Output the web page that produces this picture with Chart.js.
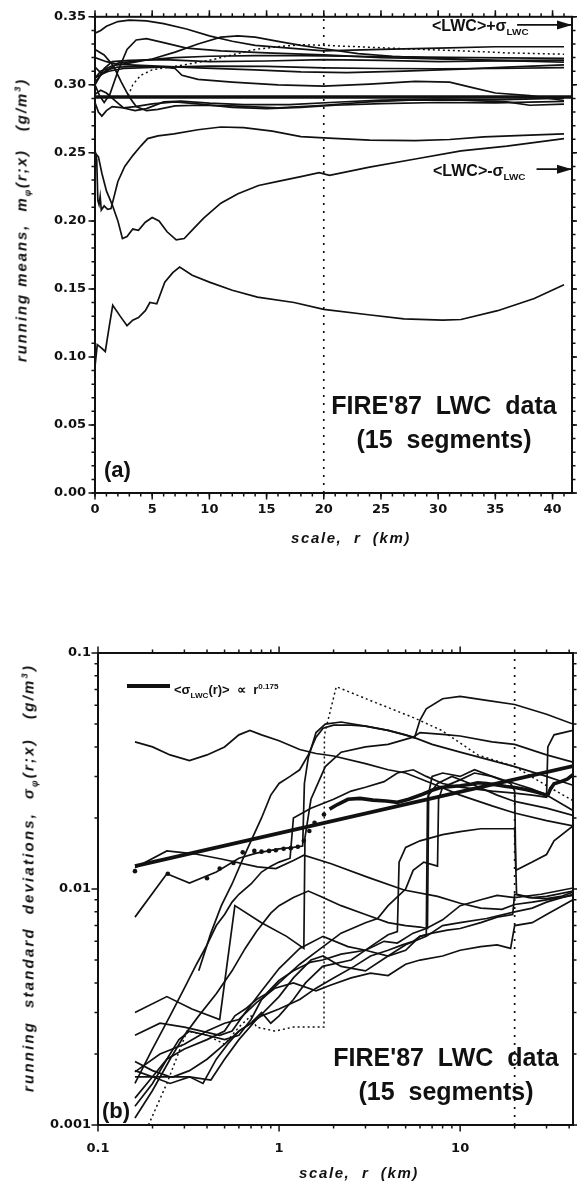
<!DOCTYPE html>
<html>
<head>
<meta charset="utf-8">
<script src="https://cdn.jsdelivr.net/npm/chart.js@4.4.1/dist/chart.umd.min.js"></script>
<style>
  body { margin: 0; background: #fff; }
  #page { position: relative; width: 577px; height: 1184px; overflow: hidden; color: #111;
          font-family: 'Liberation Sans', Arial, sans-serif; }
  canvas { position: absolute; left: 0; }
  .txt { position: absolute; font-weight: bold; white-space: pre; line-height: 1; }
  .ital { font-style: italic; letter-spacing: 1.6px; font-size: 15px; }
  .ytitle { transform: translate(-50%, -50%) rotate(-90deg); }
  .ctr { transform: translateX(-50%); text-align: center; }
  sub, sup { font-size: 0.62em; line-height: 0; }
  .big { font-size: 25px; line-height: 34px; }
  .bar { position: absolute; background: #111; }
</style>
</head>
<body>
<div id="page">
  <canvas id="meansChart" width="577" height="590" style="top:0"></canvas>
  <canvas id="stdChart" width="577" height="584" style="top:600px"></canvas>

  <div class="txt ital ytitle" style="left:21px; top:220px; letter-spacing:1.9px">running means,  m<sub>φ</sub>(r;x)   (g/m<sup>3</sup>)</div>
  <div class="txt ital ctr" style="left:351px; top:530px">scale,  r  (km)</div>
  <div class="txt" style="left:432px; top:18px; font-size:16px">&lt;LWC&gt;+σ<sub>LWC</sub></div>
  <div class="txt" style="left:433px; top:163px; font-size:16px">&lt;LWC&gt;-σ<sub>LWC</sub></div>
  <div class="txt big ctr" style="left:444px; top:388px">FIRE'87  LWC  data<br>(15  segments)</div>
  <div class="txt" style="left:104px; top:459px; font-size:22px">(a)</div>

  <div class="txt ital ytitle" style="left:28px; top:878px; letter-spacing:2.2px">running  standard  deviations,  σ<sub>φ</sub>(r;x)   (g/m<sup>3</sup>)</div>
  <div class="txt ital ctr" style="left:359px; top:1165px">scale,  r  (km)</div>
  <div class="bar" style="left:127px; top:684px; width:43px; height:4px"></div>
  <div class="txt" style="left:174px; top:683px; font-size:13px">&lt;σ<sub>LWC</sub>(r)&gt;  ∝  r<sup>0.175</sup></div>
  <div class="txt big ctr" style="left:446px; top:1040px">FIRE'87  LWC  data<br>(15  segments)</div>
  <div class="txt" style="left:102px; top:1100px; font-size:22px">(b)</div>
</div>

<script>
// ---------- panel (a): running means m(r;x), r in km, values in g/m^3 ----------
const meanTicksX = [0, 5, 10, 15, 20, 25, 30, 35, 40];
const meanTicksY = [0, 0.05, 0.10, 0.15, 0.20, 0.25, 0.30, 0.35];
const lwcMean = 0.291;
const lwcSigma = 0.053;
const refScale = 20;

const runMean01 = [[0,0.338],[0.5,0.340],[1,0.343],[2,0.3465],[3,0.3475],[4.5,0.347],[6,0.345],[8,0.341],[10,0.336],[12,0.332],[14,0.329],[17,0.327],[20,0.325],[25,0.326],[30,0.327],[35,0.328],[41,0.328]];
const runMean02 = [[0,0.300],[0.4,0.292],[0.8,0.287],[1.3,0.293],[2,0.310],[2.8,0.326],[3.6,0.333],[4.5,0.334],[6,0.331],[8,0.327],[11,0.325],[15,0.3235],[20,0.322],[25,0.320],[30,0.319],[35,0.318],[41,0.318]];
const runMean03 = [[0,0.305],[0.5,0.31],[1.5,0.314],[3,0.316],[5,0.319],[7,0.324],[9,0.330],[11,0.335],[12.5,0.336],[14,0.335],[16,0.332],[18,0.329],[20,0.3265],[23,0.323],[26,0.321],[30,0.3195],[35,0.318],[41,0.3166]];
const runMean04 = [[2.9,0.292],[3.3,0.300],[4,0.307],[5,0.311],[6.5,0.313],[8,0.315],[10,0.318],[12,0.322],[14,0.326],[16,0.328],[18,0.3295],[20,0.329],[23,0.328],[27,0.3265],[32,0.325],[36,0.3235],[41,0.3225]];
const runMean05 = [[0,0.302],[0.5,0.307],[1,0.311],[2,0.313],[4,0.3135],[6,0.313],[7,0.312],[7.6,0.307],[9,0.304],[12,0.302],[16,0.300],[20,0.299],[24,0.3005],[28,0.3025],[31,0.302],[33,0.298],[35,0.294],[38,0.292],[41,0.2885]];
const runMean06 = [[0,0.305],[1,0.310],[2,0.316],[4,0.318],[7,0.320],[10,0.321],[14,0.3215],[18,0.3215],[22,0.321],[27,0.3205],[33,0.320],[41,0.3195]];
const runMean07 = [[0,0.320],[1,0.317],[2,0.315],[5,0.314],[9,0.3125],[14,0.311],[18,0.3095],[22,0.309],[27,0.310],[32,0.3115],[36,0.313],[41,0.3146]];
const runMean08 = [[0,0.313],[0.6,0.308],[1.2,0.310],[2.5,0.312],[5,0.3128],[10,0.3138],[15,0.3135],[20,0.3125],[25,0.312],[30,0.3118],[35,0.312],[41,0.3127]];
const runMean09 = [[0,0.300],[0.8,0.312],[1.5,0.317],[3,0.318],[6,0.3185],[10,0.317],[15,0.3175],[20,0.3185],[25,0.318],[30,0.317],[35,0.3175],[41,0.318]];
const runMean10 = [[0,0.287],[0.3,0.280],[0.6,0.277],[1,0.281],[1.5,0.284],[2.5,0.283],[3.5,0.284],[5,0.286],[7,0.2875],[9,0.286],[12,0.2835],[15,0.2825],[18,0.2835],[21,0.285],[25,0.2862],[30,0.287],[35,0.2868],[41,0.2878]];
const runMean11 = [[0,0.326],[0.8,0.322],[1.6,0.314],[2.3,0.302],[3,0.291],[3.6,0.284],[4.5,0.281],[5.5,0.282],[7,0.2845],[9,0.285],[12,0.2845],[16,0.283],[20,0.285],[24,0.2875],[28,0.289],[32,0.2888],[36,0.2875],[38,0.285],[41,0.2858]];
const runMean12 = [[0,0.293],[0.5,0.296],[1,0.294],[1.8,0.288],[2.5,0.283],[3.5,0.281],[4.5,0.2825],[6,0.2875],[7.5,0.288],[10,0.2865],[13,0.2855],[17,0.2855],[21,0.2872],[25,0.2888],[30,0.2895],[35,0.289],[41,0.2902]];
const runMean13 = [[0,0.252],[0.15,0.245],[0.25,0.215],[0.35,0.212],[0.45,0.218],[0.55,0.208],[0.8,0.211],[1.1,0.2085],[1.4,0.209],[2,0.229],[2.6,0.240],[3.3,0.248],[4,0.255],[4.6,0.2605],[5.5,0.2625],[6.9,0.264],[9,0.267],[11,0.269],[13,0.2685],[15.5,0.266],[18,0.262],[20,0.261],[24,0.2594],[28,0.259],[31,0.2598],[34,0.2618],[38,0.263],[41,0.264]];
const runMean14 = [[0,0.25],[0.3,0.247],[0.6,0.235],[1,0.222],[1.5,0.212],[2,0.200],[2.4,0.187],[2.8,0.1885],[3.3,0.194],[3.8,0.193],[4.4,0.199],[5,0.2025],[5.6,0.200],[6.3,0.192],[7.1,0.186],[7.8,0.187],[8.7,0.195],[9.5,0.202],[11,0.213],[12.5,0.220],[14.3,0.226],[16,0.229],[18,0.2325],[19.6,0.2355],[20.5,0.2335],[24,0.2395],[28,0.2455],[32,0.2515],[36,0.255],[41,0.2605]];
const runMean15 = [[0,0.093],[0.2,0.109],[0.5,0.107],[0.9,0.104],[1.2,0.120],[1.55,0.138],[2.2,0.130],[2.8,0.123],[3.3,0.127],[3.8,0.129],[4.4,0.134],[4.8,0.140],[5.4,0.139],[6.1,0.155],[6.8,0.162],[7.4,0.166],[8.5,0.160],[10,0.155],[12,0.149],[14.2,0.144],[17.4,0.140],[20,0.135],[23.9,0.131],[27,0.128],[30.4,0.127],[32,0.1275],[35.2,0.134],[38.4,0.143],[41,0.153]];

// ---------- panel (b): running standard deviations, log-log ----------
const stdTicksX = [0.1, 1, 10];
const stdTicksY = [0.001, 0.01, 0.1];
const fitExponent = 0.175;
const fitLine = [[0.16,0.0125],[42,0.0332]];
const ensembleDots = [[0.16,0.0119],[0.243,0.0116],[0.40,0.0111],[0.47,0.0122],[0.56,0.0129],[0.63,0.0143],[0.73,0.0145],[0.80,0.0144],[0.88,0.0145],[0.96,0.0146],[1.06,0.0148],[1.16,0.0149],[1.27,0.0151],[1.37,0.0160],[1.47,0.0176],[1.57,0.0191],[1.77,0.0207]];
const ensembleMean = [[1.9,0.0218],[2.1,0.0228],[2.4,0.0240],[2.8,0.0242],[3.3,0.0238],[3.9,0.0236],[4.5,0.0233],[5.2,0.0240],[6.2,0.0252],[7,0.0262],[7.8,0.0269],[9,0.0272],[10,0.0274],[11.5,0.0278],[12.5,0.0282],[14,0.0280],[16,0.0276],[18,0.0272],[20,0.0269],[23,0.0264],[26,0.0258],[29,0.0252],[30.5,0.0250],[31.5,0.0265],[33,0.0279],[36,0.0285],[39,0.0292],[42,0.0305]];

const runStd01 = [[0.16,0.042],[0.2,0.040],[0.25,0.037],[0.32,0.035],[0.4,0.037],[0.5,0.040],[0.6,0.045],[0.69,0.047],[0.8,0.045],[1.0,0.0425],[1.3,0.039],[1.6,0.0375],[2,0.0366],[3,0.034],[4,0.032],[5,0.031],[7,0.028],[10,0.025],[15,0.0225],[20,0.021],[30,0.0195],[42,0.0185]];
const runStd02 = [[0.16,0.0123],[0.24,0.0145],[0.34,0.0141],[0.48,0.0134],[0.76,0.0124],[0.96,0.0122],[1.2,0.0132],[1.37,0.0139],[1.94,0.0128],[3.1,0.0112],[4.9,0.0099],[7.5,0.0093],[10,0.0087],[13,0.0083],[17,0.0082],[20,0.0086],[25,0.0088],[30,0.0090],[42,0.0094]];
const runStd03 = [[0.16,0.0076],[0.24,0.0116],[0.32,0.0106],[0.45,0.0118],[0.6,0.0135],[0.75,0.0142],[1.0,0.0148],[1.2,0.0150],[1.35,0.0152],[1.38,0.028],[1.45,0.036],[1.6,0.046],[1.8,0.050],[2.2,0.051],[3,0.049],[4,0.047],[5,0.045],[5.6,0.0437],[6.0,0.052],[6.5,0.058],[8,0.064],[10,0.0655],[14,0.063],[20,0.0605],[30,0.055],[42,0.050]];
const runStd04 = [[0.16,0.0030],[0.24,0.0035],[0.33,0.0031],[0.47,0.0028],[0.57,0.0085],[0.8,0.0072],[1.1,0.0063],[1.37,0.0056],[1.39,0.0165],[1.5,0.024],[1.8,0.033],[2.2,0.038],[3,0.040],[4,0.041],[5.5,0.044],[6.0,0.046],[8,0.0452],[10,0.0445],[15,0.042],[20,0.041],[30,0.037],[42,0.0345]];
const runStd05 = [[0.16,0.0024],[0.22,0.0027],[0.3,0.0026],[0.47,0.0024],[0.55,0.0025],[0.65,0.0030],[0.8,0.0037],[1.0,0.0046],[1.3,0.0056],[1.75,0.0063],[2.4,0.0057],[3,0.0055],[4,0.0052],[5,0.0055],[6,0.0063],[6.5,0.0064],[6.6,0.024],[7,0.030],[8,0.031],[10,0.030],[12,0.032],[15,0.030],[20,0.028],[25,0.0265],[30,0.025],[42,0.0215]];
const runStd06 = [[0.16,0.00186],[0.2,0.0017],[0.25,0.0016],[0.32,0.0016],[0.42,0.00155],[0.5,0.0019],[0.6,0.0023],[0.75,0.0028],[1.0,0.0035],[1.2,0.0042],[1.5,0.0050],[1.75,0.0052],[2.2,0.0047],[3,0.0045],[4,0.0052],[5,0.0058],[6.5,0.0063],[8,0.0070],[10,0.0072],[14,0.0075],[20,0.0080],[25,0.0083],[30,0.0088],[42,0.0095]];
const runStd07 = [[0.16,0.00168],[0.22,0.0020],[0.3,0.0022],[0.4,0.0025],[0.5,0.0027],[0.6,0.0028],[0.75,0.0033],[0.95,0.0038],[1.2,0.0040],[1.6,0.0037],[1.9,0.0039],[2.5,0.0042],[3.2,0.0044],[4,0.0043],[5,0.0048],[6,0.0050],[8,0.0052],[10,0.0055],[13,0.0057],[16,0.0058],[19,0.0056],[20,0.0070],[25,0.0072],[30,0.0078],[42,0.0090]];
const runStd08 = [[0.16,0.0015],[0.2,0.0021],[0.25,0.0029],[0.3,0.0038],[0.35,0.0048],[0.4,0.0058],[0.45,0.0070],[0.5,0.0078],[0.55,0.0088],[0.6,0.0095],[0.7,0.0105],[0.8,0.0118],[0.9,0.0125],[1.0,0.013],[1.15,0.0135],[1.2,0.020],[1.5,0.022],[2,0.024],[2.5,0.026],[3,0.027],[3.8,0.0285],[4.5,0.031],[5.5,0.032],[6.5,0.030],[8,0.028],[10,0.027],[15,0.026],[20,0.0255],[25,0.025],[30,0.0245],[30.5,0.040],[33,0.045],[42,0.047]];
const runStd09 = [[0.16,0.0013],[0.2,0.0016],[0.24,0.0019],[0.3,0.0021],[0.4,0.0023],[0.5,0.0025],[0.57,0.0029],[0.65,0.0031],[0.75,0.0034],[0.85,0.0036],[1.0,0.0041],[1.2,0.0045],[1.5,0.0049],[1.74,0.0050],[2.2,0.0053],[3,0.0055],[3.8,0.0060],[4.5,0.0059],[5.5,0.0065],[6.5,0.0068],[8,0.0074],[10,0.0085],[13,0.0090],[16,0.0094],[20,0.0092],[28,0.0095],[42,0.0101]];
const runStd10 = [[0.16,0.00107],[0.2,0.0014],[0.25,0.0019],[0.3,0.0024],[0.36,0.0029],[0.45,0.0036],[0.55,0.0045],[0.65,0.0056],[0.75,0.0066],[0.9,0.0079],[1.0,0.0085],[1.2,0.0092],[1.45,0.0098],[1.7,0.0093],[2.2,0.0085],[3,0.0078],[4,0.0072],[5,0.0070],[6,0.0069],[6.6,0.0068],[6.7,0.025],[7.5,0.028],[9,0.030],[12,0.0275],[16,0.025],[20,0.0235],[30,0.022],[42,0.0205]];
const runStd11 = [[0.16,0.0016],[0.2,0.0016],[0.25,0.0015],[0.32,0.0016],[0.38,0.0015],[0.45,0.0019],[0.52,0.0022],[0.6,0.0025],[0.7,0.0027],[0.8,0.0030],[0.9,0.0027],[1.0,0.0029],[1.2,0.0034],[1.4,0.0040],[1.74,0.0047],[2.5,0.0050],[3.2,0.0057],[4,0.0064],[4.5,0.0066],[4.6,0.013],[5,0.015],[6,0.016],[8,0.017],[10,0.0175],[13,0.018],[20,0.018],[20.5,0.0095],[25,0.0092],[30,0.0093],[42,0.0098]];
const runStd12 = [[0.16,0.0012],[0.2,0.0015],[0.24,0.0019],[0.28,0.0023],[0.32,0.0025],[0.4,0.0024],[0.5,0.0023],[0.6,0.0024],[0.7,0.0028],[0.8,0.0034],[1.0,0.0040],[1.3,0.0048],[1.7,0.0056],[2.2,0.0065],[3,0.0072],[3.5,0.0075],[4,0.0085],[5,0.010],[5.5,0.012],[6.3,0.013],[7.5,0.0125],[7.6,0.024],[8,0.027],[10,0.029],[12,0.031],[15,0.030],[19,0.028],[20,0.026],[20.3,0.012],[25,0.013],[30,0.014],[33,0.016],[42,0.0185]];
const runStd13 = [[0.36,0.0045],[0.42,0.0065],[0.48,0.0085],[0.55,0.0105],[0.62,0.013],[0.7,0.016],[0.8,0.020],[0.9,0.025],[1.0,0.028],[1.15,0.030],[1.3,0.032],[1.45,0.037],[1.6,0.044],[1.75,0.048],[2.0,0.0495],[2.5,0.0495],[3,0.049],[4,0.047],[5.5,0.044],[7,0.041],[10,0.038],[15,0.035],[20,0.033],[30,0.030],[42,0.0275]];
const runStd14 = [[0.16,0.0017],[0.2,0.0016],[0.26,0.0016],[0.32,0.0017],[0.4,0.0019],[0.5,0.0022],[0.6,0.0025],[0.7,0.0027],[0.8,0.0029],[1.0,0.0031],[1.3,0.0034],[1.6,0.0038],[2,0.0042],[2.6,0.0047],[3.2,0.0052],[4,0.0055],[4.8,0.0058],[5.5,0.0060],[6,0.0063],[7,0.0065],[8.5,0.0067],[10,0.0068],[13,0.0072],[16,0.0076],[19.5,0.0078],[20,0.0095],[24,0.0092],[30,0.0091],[36,0.0093],[42,0.0097]];
const runStd15 = [[0.19,0.001],[0.24,0.0015],[0.31,0.0025],[0.4,0.0024],[0.5,0.0022],[0.6,0.0026],[0.7,0.0029],[0.75,0.0026],[0.95,0.0025],[1.2,0.0026],[1.77,0.0026],[1.78,0.045],[2.07,0.072],[3.1,0.0635],[5.6,0.053],[7.9,0.047],[12.5,0.037],[20,0.033],[31,0.027],[42,0.0237]];

// ---------- helpers ----------
const ink = '#111';
const toXY = pts => pts.map(([x, y]) => ({ x, y }));

function curve(pts, extra = {}) {
  return Object.assign({
    data: toXY(pts), showLine: true, borderColor: ink, borderWidth: 1.7,
    pointRadius: 0, tension: 0
  }, extra);
}

function range(from, to, step) {
  const out = [];
  for (let v = from; v <= to + 1e-9; v += step) out.push(+v.toFixed(6));
  return out;
}

function logMinors(lo, hi) {
  const out = [];
  for (let d = lo; d < hi * 0.999; d *= 10) {
    for (let k = 2; k <= 9; k++) out.push(+(d * k).toPrecision(3));
  }
  return out;
}

// frame + outward tick marks on all four sides
const frameTicks = {
  id: 'frameTicks',
  afterDatasetsDraw(chart, args, opts) {
    const { ctx, chartArea: a, scales: { x, y } } = chart;
    ctx.save();
    ctx.strokeStyle = ink;
    ctx.lineWidth = 1.5;
    const xMark = (vals, len) => vals.forEach(v => {
      const p = x.getPixelForValue(v);
      if (p < a.left - 1 || p > a.right + 1) return;
      ctx.beginPath();
      ctx.moveTo(p, a.bottom); ctx.lineTo(p, a.bottom + len);
      ctx.moveTo(p, a.top); ctx.lineTo(p, a.top - len);
      ctx.stroke();
    });
    const yMark = (vals, len) => vals.forEach(v => {
      const p = y.getPixelForValue(v);
      if (p < a.top - 1 || p > a.bottom + 1) return;
      ctx.beginPath();
      ctx.moveTo(a.left - len, p); ctx.lineTo(a.left, p);
      ctx.moveTo(a.right, p); ctx.lineTo(a.right + len, p);
      ctx.stroke();
    });
    xMark(opts.xMinor, 3.5); xMark(opts.xMajor, 6.5);
    yMark(opts.yMinor, 3.5); yMark(opts.yMajor, 6.5);
    ctx.lineWidth = 2;
    ctx.strokeRect(a.left, a.top, a.right - a.left, a.bottom - a.top);
    ctx.restore();
  }
};

// filled arrow heads at the end of datasets flagged with arrowHead
const arrowHeads = {
  id: 'arrowHeads',
  afterDatasetsDraw(chart) {
    const { ctx } = chart;
    chart.data.datasets.forEach((ds, i) => {
      if (!ds.arrowHead) return;
      const pts = chart.getDatasetMeta(i).data;
      const end = pts[pts.length - 1];
      ctx.save();
      ctx.fillStyle = ink;
      ctx.beginPath();
      ctx.moveTo(end.x, end.y);
      ctx.lineTo(end.x - 15, end.y - 4.5);
      ctx.lineTo(end.x - 15, end.y + 4.5);
      ctx.closePath();
      ctx.fill();
      ctx.restore();
    });
  }
};

const tickFont = { family: 'DejaVu Sans', weight: 'bold', size: 13 };

function axis(type, min, max, majors, fmt, pad, fitSize, isX) {
  return {
    type, min, max,
    grid: { display: false, drawTicks: false },
    border: { display: false },
    afterBuildTicks: s => { s.ticks = majors.map(v => ({ value: v })); },
    afterFit: s => { if (isX) s.height = fitSize; else s.width = fitSize; },
    ticks: { font: tickFont, color: ink, padding: pad, autoSkip: false, maxRotation: 0, callback: fmt }
  };
}

// ---------- chart (a) ----------
const meanSets = [runMean01, runMean02, runMean03, runMean05, runMean06, runMean07, runMean08,
  runMean09, runMean10, runMean11, runMean12, runMean13, runMean14, runMean15].map(p => curve(p));

new Chart(document.getElementById('meansChart'), {
  type: 'scatter',
  data: {
    datasets: [
      ...meanSets,
      curve(runMean04, { borderDash: [2, 3], borderWidth: 1.5 }),
      curve([[0, lwcMean], [41.7, lwcMean]], { borderWidth: 3.4 }),
      curve([[refScale, 0], [refScale, 0.35]], { borderDash: [2, 6], borderWidth: 1.7 }),
      curve([[36.9, lwcMean + lwcSigma], [41.7, lwcMean + lwcSigma]], { borderWidth: 1.7, arrowHead: true, clip: false }),
      curve([[38.6, lwcMean - lwcSigma], [41.7, lwcMean - lwcSigma]], { borderWidth: 1.7, arrowHead: true, clip: false })
    ]
  },
  options: {
    responsive: false, animation: false,
    layout: { padding: { top: 15, right: 5, left: 0, bottom: 0 } },
    plugins: {
      legend: { display: false }, tooltip: { enabled: false },
      frameTicks: {
        xMajor: meanTicksX, xMinor: range(0, 41, 1),
        yMajor: meanTicksY, yMinor: range(0, 0.35, 0.01)
      }
    },
    scales: {
      x: axis('linear', 0, 41.7, meanTicksX, v => String(v), 9, 97, true),
      y: axis('linear', 0, 0.35, meanTicksY, v => v.toFixed(2), 9, 95, false)
    }
  },
  plugins: [frameTicks, arrowHeads]
});

// ---------- chart (b) ----------
const stdSets = [runStd01, runStd02, runStd03, runStd04, runStd05, runStd06, runStd07,
  runStd08, runStd09, runStd10, runStd11, runStd12, runStd13, runStd14].map(p => curve(p));

new Chart(document.getElementById('stdChart'), {
  type: 'scatter',
  data: {
    datasets: [
      ...stdSets,
      curve(runStd15, { borderDash: [2, 3], borderWidth: 1.5 }),
      curve([[refScale, 0.001], [refScale, 0.1]], { borderDash: [2, 6], borderWidth: 1.7 }),
      curve(fitLine, { borderWidth: 3.8 }),
      curve(ensembleMean, { borderWidth: 3.6 }),
      { data: toXY(ensembleDots), showLine: false, pointRadius: 2.3, pointBackgroundColor: ink, pointBorderWidth: 0 }
    ]
  },
  options: {
    responsive: false, animation: false,
    layout: { padding: { top: 53, right: 2, left: 0, bottom: 0 } },
    plugins: {
      legend: { display: false }, tooltip: { enabled: false },
      frameTicks: {
        xMajor: stdTicksX, xMinor: logMinors(0.1, 40).filter(v => v <= 42),
        yMajor: stdTicksY, yMinor: logMinors(0.001, 0.1)
      }
    },
    scales: {
      x: axis('logarithmic', 0.1, 42, stdTicksX, v => String(v), 16, 59, true),
      y: axis('logarithmic', 0.001, 0.1, stdTicksY, v => String(v), 7, 98, false)
    }
  },
  plugins: [frameTicks, arrowHeads]
});
</script>
</body>
</html>
